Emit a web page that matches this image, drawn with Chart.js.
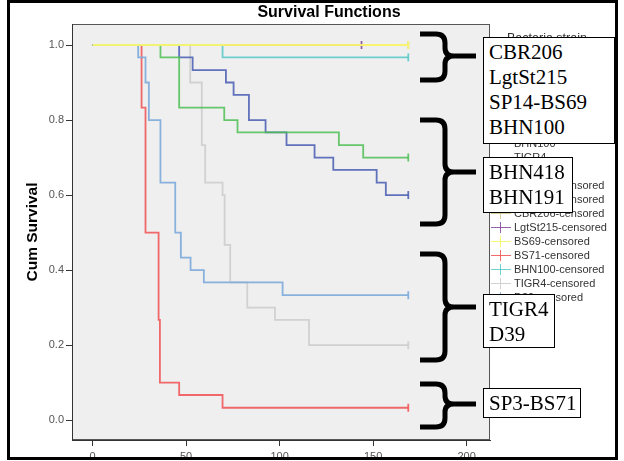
<!DOCTYPE html>
<html><head><meta charset="utf-8">
<script src="https://cdn.jsdelivr.net/npm/chart.js@4/dist/chart.umd.min.js"></script>
<style>
html,body{margin:0;padding:0;background:#fff;}
#wrap{position:relative;width:624px;height:461px;overflow:hidden;font-family:"Liberation Sans",Arial,sans-serif;}
#cv{position:absolute;left:0;top:0;width:624px;height:461px;}
#title{position:absolute;left:0;width:658px;top:3px;line-height:18px;text-align:center;font-weight:bold;font-size:16px;color:#000;}
.lg{position:absolute;font-size:11px;color:#333;white-space:nowrap;line-height:13px;}
.ic{position:absolute;}
.box{position:absolute;background:#fff;border:1px solid #000;box-sizing:border-box;font-family:"Liberation Serif","Times New Roman",serif;font-size:21px;line-height:25px;color:#000;padding:2px 0 0 5px;white-space:nowrap;}
#frame{position:absolute;left:7px;top:0;width:611px;height:460px;border:3px solid #000;box-sizing:border-box;}
svg{position:absolute;left:0;top:0;}
</style></head>
<body>
<div id="wrap">
<div id="chartbox" style="position:absolute;left:0;top:0;width:624px;height:461px;"><canvas id="cv"></canvas></div>
<div id="title">Survival Functions</div>
<div id="legend"></div>
<svg width="624" height="461" id="braces"></svg>
<div class="box" style="left:483px;top:37px;width:132px;height:107px;">CBR206<br>LgtSt215<br>SP14-BS69<br>BHN100</div>
<div class="box" style="left:483px;top:157px;width:90px;height:56px;">BHN418<br>BHN191</div>
<div class="box" style="left:483px;top:294px;width:72px;height:54px;">TIGR4<br>D39</div>
<div class="box" style="left:483px;top:388px;width:98px;height:30px;">SP3-BS71</div>
<div id="frame"></div>
</div>
<script>
// ---- data ----
const strains = ['BHN418','BHN191','CBR206','LgtSt215','BS69','BS71','BHN100','TIGR4','D39'];
const legendTitle = 'Bacteria strain';
const xTicks = [0, 50, 100, 150, 200];
const yTicks = [0, 0.2, 0.4, 0.6, 0.8, 1.0];

const tBHN418 = [0, 46.3, 53.5, 71.3, 75.4, 83.6, 92.5, 103.7, 118.7, 128.7, 151.9, 156.8, 168.8];
const sBHN418 = [1, 0.967, 0.933, 0.9, 0.867, 0.8, 0.767, 0.733, 0.7, 0.667, 0.633, 0.6, 0.6];
const tBHN191 = [0, 36.3, 46.3, 70.4, 77.5, 131.7, 144.7, 168.8];
const sBHN191 = [1, 0.967, 0.833, 0.8, 0.767, 0.733, 0.7, 0.7];
const tCBR206 = [0, 168.8];
const sCBR206 = [1, 1];
const tLgtSt215 = [0, 143.8];
const sLgtSt215 = [1, 1];
const tBS69 = [0, 168.8];
const sBS69 = [1, 1];
const tBS71 = [0, 26.2, 28.3, 35.3, 36.0, 46.3, 69.5, 168.8];
const sBS71 = [1, 0.833, 0.5, 0.267, 0.1, 0.067, 0.033, 0.033];
const tBHN100 = [0, 69.5, 168.8];
const sBHN100 = [1, 0.967, 0.967];
const tTIGR4 = [0, 52.2, 58.4, 60.2, 69.5, 70.6, 73.6, 82.7, 97.5, 115.7, 168.8];
const sTIGR4 = [1, 0.9, 0.733, 0.633, 0.6, 0.467, 0.367, 0.3, 0.267, 0.2, 0.2];
const tD39 = [0, 24.4, 28.3, 30.1, 36.3, 44.2, 47.2, 52.4, 59.5, 101.6, 168.8];
const sD39 = [1, 0.967, 0.9, 0.8, 0.633, 0.5, 0.433, 0.4, 0.367, 0.333, 0.333];
// censored observation times
const cBHN418 = [168.8], cBHN191 = [168.8], cCBR206 = [168.8], cLgtSt215 = [143.8], cBS69 = [168.8],
      cBS71 = [168.8], cBHN100 = [168.8], cTIGR4 = [168.8], cD39 = [168.8];

// ---- styles ----
const colors = ['rgba(70,92,178,0.85)','rgba(78,190,84,0.85)','rgba(208,200,140,0.9)','rgba(128,70,150,0.85)',
                'rgba(250,245,110,0.95)','rgba(240,80,82,0.85)','rgba(86,200,200,0.85)','rgba(205,205,205,0.9)','rgba(125,170,218,0.9)'];
const drawOrder = [5, 4, 8, 7, 0, 3, 1, 6, 2];

const series = [
  [tBHN418, sBHN418, cBHN418], [tBHN191, sBHN191, cBHN191], [tCBR206, sCBR206, cCBR206],
  [tLgtSt215, sLgtSt215, cLgtSt215], [tBS69, sBS69, cBS69], [tBS71, sBS71, cBS71],
  [tBHN100, sBHN100, cBHN100], [tTIGR4, sTIGR4, cTIGR4], [tD39, sD39, cD39]
];

const datasets = strains.map((name, i) => {
  const [t, s, c] = series[i];
  const pts = t.map((x, k) => ({x: x, y: s[k]}));
  return {
    label: name,
    data: pts,
    stepped: 'before',
    borderColor: colors[i],
    borderWidth: 1.8,
    fill: false,
    order: drawOrder[i],
    pointStyle: 'line',
    rotation: 90,
    pointRadius: pts.map(p => c.includes(p.x) ? 4 : 0),
    pointBorderColor: colors[i],
    pointBorderWidth: 1.8,
    pointHoverRadius: 0
  };
});

const bgPlugin = {
  id: 'bg',
  beforeDraw(chart) {
    const {ctx, chartArea: a} = chart;
    ctx.save();
    ctx.fillStyle = '#efefef';
    ctx.fillRect(a.left, a.top, a.right - a.left, a.bottom - a.top);
    ctx.strokeStyle = '#555';
    ctx.lineWidth = 1;
    ctx.strokeRect(a.left + 0.5, a.top + 0.5, a.right - a.left - 1, a.bottom - a.top - 1);
    ctx.restore();
  }
};

new Chart(document.getElementById('cv'), {
  type: 'line',
  data: {datasets},
  plugins: [bgPlugin],
  options: {
    responsive: true,
    maintainAspectRatio: false,
    animation: false,
    events: [],
    layout: {padding: {left: 0, top: 24, right: 134, bottom: 0}},
    plugins: {legend: {display: false}, tooltip: {enabled: false}, title: {display: false}},
    scales: {
      x: {
        type: 'linear', min: -11, max: 212.5,
        afterBuildTicks: s => { s.ticks = xTicks.map(v => ({value: v})); },
        afterFit: s => { s.height = 21; },
        grid: {drawOnChartArea: false, drawTicks: true, tickLength: 6, color: '#333', lineWidth: 1},
        border: {display: true, color: '#333', width: 1},
        ticks: {color: '#555', font: {family: 'Liberation Sans, Arial', size: 11}, padding: 4, maxRotation: 0, autoSkip: false}
      },
      y: {
        type: 'linear', min: -0.053, max: 1.056,
        afterBuildTicks: s => { s.ticks = yTicks.map(v => ({value: v})); },
        afterFit: s => { s.width = 72; },
        grid: {drawOnChartArea: false, drawTicks: true, tickLength: 6, color: '#333', lineWidth: 1},
        border: {display: true, color: '#333', width: 1},
        ticks: {color: '#555', font: {family: 'Liberation Sans, Arial', size: 11}, padding: 2, callback: v => Number(v).toFixed(1)},
        title: {display: true, text: 'Cum Survival', color: '#000', font: {family: 'Liberation Sans, Arial', size: 15.5, weight: 'bold'}, padding: {top: 23, bottom: 0}}
      }
    }
  }
});

// ---- legend (partly covered by annotation boxes) ----
const lg = document.getElementById('legend');
function addRow(text, color, y, censored) {
  const ln = document.createElement('div');
  ln.className = 'ic';
  ln.style.cssText = `left:491px;top:${y}px;width:20px;height:0;border-top:1.5px solid ${color};`;
  lg.appendChild(ln);
  if (censored) {
    const v = document.createElement('div');
    v.className = 'ic';
    v.style.cssText = `left:500px;top:${y - 5}px;width:0;height:11px;border-left:1.5px solid ${color};`;
    lg.appendChild(v);
  }
  const d = document.createElement('div');
  d.className = 'lg';
  d.style.left = '514px';
  d.style.top = (y - 6) + 'px';
  d.textContent = text;
  lg.appendChild(d);
}
const tl = document.createElement('div');
tl.className = 'lg';
tl.style.cssText = 'left:507px;top:32px;font-size:12.5px;';
tl.textContent = legendTitle;
lg.appendChild(tl);
strains.forEach((n, i) => addRow(n, colors[i], 59 + i * 14, false));
strains.forEach((n, i) => addRow(n + '-censored', colors[i], 185 + i * 14, true));

// ---- braces ----
const svg = document.getElementById('braces');
function brace(yt, ym, yb) {
  const p = document.createElementNS('http://www.w3.org/2000/svg', 'path');
  const d = `M420 ${yt} L436 ${yt} Q445 ${yt} 445 ${yt + 9} L445 ${ym - 8} Q445 ${ym} 454 ${ym} L476 ${ym} ` +
            `M454 ${ym} Q445 ${ym} 445 ${ym + 8} L445 ${yb - 9} Q445 ${yb} 436 ${yb} L420 ${yb}`;
  p.setAttribute('d', d);
  p.setAttribute('fill', 'none');
  p.setAttribute('stroke', '#000');
  p.setAttribute('stroke-width', '5');
  p.setAttribute('stroke-linejoin', 'round');
  svg.appendChild(p);
}
brace(34, 56, 80);
brace(120, 172, 224);
brace(254, 307, 360);
brace(384, 404, 427);
</script>
</body></html>
